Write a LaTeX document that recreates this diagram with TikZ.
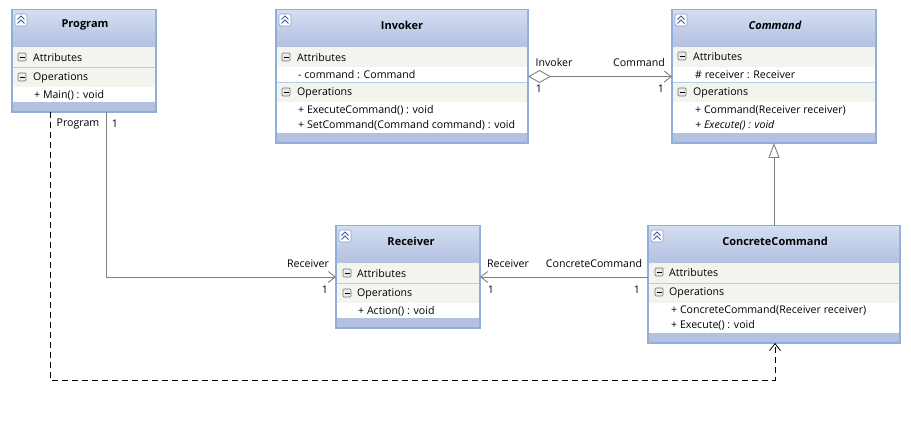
\documentclass[tikz,border=0pt]{standalone}
\usepackage{fontspec}
\setmainfont{Open Sans}
\usetikzlibrary{arrows.meta}
\definecolor{classline}{HTML}{8FAEDB}
\definecolor{headtop}{HTML}{D3DDF0}
\definecolor{headbottom}{HTML}{B3C0E0}
\definecolor{rowband}{HTML}{F2F5EE}
\definecolor{rowline}{HTML}{B9CBE8}
\definecolor{iconblue}{HTML}{3F5A9C}
\tikzset{
	classbox/.style={draw=classline, fill=headbottom, line width=1.2pt, inner sep=0pt, outer sep=0pt, anchor=north west},
	headbox/.style={top color=headtop, bottom color=headbottom, inner sep=0pt, outer sep=0pt, anchor=north west, minimum height=36pt},
	bandbox/.style={fill=rowband, inner sep=0pt, outer sep=0pt, anchor=north west, minimum height=20pt},
	rowbox/.style={fill=white, inner sep=0pt, outer sep=0pt, anchor=north west},
	sepline/.style={draw=rowline, line width=0.8pt},
	title/.style={font=\fontsize{11}{13}\selectfont\bfseries, inner sep=0pt, yshift=-1pt},
	member/.style={font=\fontsize{10.6}{13}\selectfont, inner sep=0pt, anchor=west, yshift=-0.8pt},
	rolelabel/.style={font=\fontsize{10.6}{13}\selectfont, inner sep=0pt},
	solidlink/.style={draw=black!50, line width=0.9pt},
	dashlink/.style={draw=black, line width=0.8pt, dash pattern=on 6pt off 4pt},
	collapse/.pic={
		\draw[draw=iconblue!60, fill=white, rounded corners=1.5pt, line width=0.7pt] (-6,-6) rectangle (6,6);
		\draw[draw=iconblue, line width=1pt] (-3.5,-0.5) -- (0,-4) -- (3.5,-0.5);
		\draw[draw=iconblue, line width=1pt] (-3.5,3.5) -- (0,0) -- (3.5,3.5);
	},
	minusbox/.pic={
		\draw[draw=black!55, fill=black!8, rounded corners=1pt, line width=0.7pt] (-4,-4) rectangle (4,4);
		\draw[draw=black, line width=0.9pt] (-2.5,0) -- (2.5,0);
	}
}

\begin{document}
\begin{tikzpicture}[x=1pt, y=-1pt]
	\useasboundingbox (0,0) rectangle (911,430);

	% Program
	\node[classbox, minimum width=144pt, minimum height=102pt] (Program) at (12,10) {};
	\node[headbox, minimum width=142pt] (ProgramHead) at (13,11) {};
	\node[bandbox, minimum width=142pt] (ProgramAttrBand) at (13,47) {};
	\node[bandbox, minimum width=142pt] (ProgramOpsBand) at (13,67) {};
	\node[rowbox, minimum width=142pt, minimum height=15pt] (ProgramOpsRows) at (13,87) {};
	\draw[sepline] (13,67) -- (155,67);
	\pic at (21,20) {collapse};
	\pic at (22,57) {minusbox};
	\pic at (22,77) {minusbox};
	\node[title] (ProgramTitle) at (85,24) {Program};
	\node[member] (ProgramAttr) at (33,57) {Attributes};
	\node[member] (ProgramOps) at (33,77) {Operations};
	\node[member] (ProgramMain) at (34,95) {+ Main() : void};

	% Invoker
	\node[classbox, minimum width=252pt, minimum height=133pt] (Invoker) at (276,10) {};
	\node[headbox, minimum width=250pt] (InvokerHead) at (277,11) {};
	\node[bandbox, minimum width=250pt] (InvokerAttrBand) at (277,47) {};
	\node[rowbox, minimum width=250pt, minimum height=15pt] (InvokerAttrRows) at (277,67) {};
	\node[bandbox, minimum width=250pt] (InvokerOpsBand) at (277,82) {};
	\node[rowbox, minimum width=250pt, minimum height=31pt] (InvokerOpsRows) at (277,102) {};
	\draw[sepline] (277,82) -- (527,82);
	\pic at (285,20) {collapse};
	\pic at (286,57) {minusbox};
	\pic at (286,92) {minusbox};
	\node[title] (InvokerTitle) at (402,24) {Invoker};
	\node[member] (InvokerAttr) at (297,57) {Attributes};
	\node[member] (InvokerField) at (298,74) {- command : Command};
	\node[member] (InvokerOps) at (297,92) {Operations};
	\node[member] (InvokerExec) at (298,110) {+ ExecuteCommand() : void};
	\node[member] (InvokerSet) at (298,125) {+ SetCommand(Command command) : void};

	% Command
	\node[classbox, minimum width=204pt, minimum height=133pt] (Command) at (672,10) {};
	\node[headbox, minimum width=202pt] (CommandHead) at (673,11) {};
	\node[bandbox, minimum width=202pt] (CommandAttrBand) at (673,47) {};
	\node[rowbox, minimum width=202pt, minimum height=15pt] (CommandAttrRows) at (673,67) {};
	\node[bandbox, minimum width=202pt] (CommandOpsBand) at (673,82) {};
	\node[rowbox, minimum width=202pt, minimum height=31pt] (CommandOpsRows) at (673,102) {};
	\draw[sepline] (673,82) -- (875,82);
	\pic at (681,20) {collapse};
	\pic at (682,56) {minusbox};
	\pic at (682,92) {minusbox};
	\node[title, font=\fontsize{11}{13}\selectfont\bfseries\itshape] (CommandTitle) at (775,24) {Command};
	\node[member] (CommandAttr) at (693,56) {Attributes};
	\node[member] (CommandField) at (695,74) {\# receiver : Receiver};
	\node[member] (CommandOps) at (693,92) {Operations};
	\node[member] (CommandCtor) at (695,110) {+ Command(Receiver receiver)};
	\node[member, font=\fontsize{10.6}{13}\selectfont\itshape] (CommandExec) at (695,125) {+ Execute() : void};

	% Receiver
	\node[classbox, minimum width=144pt, minimum height=102pt] (Receiver) at (336,226) {};
	\node[headbox, minimum width=142pt] (ReceiverHead) at (337,227) {};
	\node[bandbox, minimum width=142pt] (ReceiverAttrBand) at (337,263) {};
	\node[bandbox, minimum width=142pt] (ReceiverOpsBand) at (337,283) {};
	\node[rowbox, minimum width=142pt, minimum height=15pt] (ReceiverOpsRows) at (337,303) {};
	\draw[sepline] (337,283) -- (479,283);
	\pic at (345,236) {collapse};
	\pic at (347,273) {minusbox};
	\pic at (347,293) {minusbox};
	\node[title] (ReceiverTitle) at (411,240) {Receiver};
	\node[member] (ReceiverAttr) at (357,273) {Attributes};
	\node[member] (ReceiverOps) at (357,293) {Operations};
	\node[member] (ReceiverAction) at (358,311) {+ Action() : void};

	% ConcreteCommand
	\node[classbox, minimum width=252pt, minimum height=117pt] (ConcreteCommand) at (648,226) {};
	\node[headbox, minimum width=250pt] (ConcreteHead) at (649,227) {};
	\node[bandbox, minimum width=250pt] (ConcreteAttrBand) at (649,263) {};
	\node[bandbox, minimum width=250pt] (ConcreteOpsBand) at (649,283) {};
	\node[rowbox, minimum width=250pt, minimum height=30pt] (ConcreteOpsRows) at (649,303) {};
	\draw[sepline] (649,283) -- (899,283);
	\pic at (657,236) {collapse};
	\pic at (659,272) {minusbox};
	\pic at (659,292) {minusbox};
	\node[title] (ConcreteTitle) at (775,240) {ConcreteCommand};
	\node[member] (ConcreteAttr) at (669,272) {Attributes};
	\node[member] (ConcreteOps) at (669,292) {Operations};
	\node[member] (ConcreteCtor) at (671,310) {+ ConcreteCommand(Receiver receiver)};
	\node[member] (ConcreteExec) at (671,325) {+ Execute() : void};

	% links
	\coordinate (dashcorner) at (50,380);
	\coordinate (dashturn) at (775,380);
	\draw[solidlink, {Diamond[open, fill=white, length=23pt, width=13pt]}-{Straight Barb[length=7pt, width=11pt]}] (Invoker) -- (Command);
	\draw[solidlink, -{Triangle[open, fill=white, length=15pt, width=11pt]}] (ConcreteCommand) -- (Command);
	\draw[solidlink, -{Straight Barb[length=7pt, width=11pt]}] ([xshift=22pt]Program.south) |- (Receiver);
	\draw[solidlink, -{Straight Barb[length=7pt, width=11pt]}] (ConcreteCommand.west |- Receiver) -- (Receiver);
	\draw[dashlink, -{Straight Barb[length=7pt, width=11pt, line width=0.8pt]}] ([xshift=-34pt]Program.south) -- (dashcorner) -- (dashturn) -- (ConcreteCommand.south -| dashturn);

	% link labels
	\node[rolelabel] (ProgramEnd) at (78,124) {Program};
	\node[rolelabel] (ProgramOne) at (115,124) {1};
	\node[rolelabel] (InvokerEnd) at (554,63) {Invoker};
	\node[rolelabel] (InvokerOne) at (539,89) {1};
	\node[rolelabel] (CommandEnd) at (639,63) {Command};
	\node[rolelabel] (CommandOne) at (661,89) {1};
	\node[rolelabel] (ReceiverLeftEnd) at (308,264) {Receiver};
	\node[rolelabel] (ReceiverLeftOne) at (325,290) {1};
	\node[rolelabel] (ReceiverRightEnd) at (508,264) {Receiver};
	\node[rolelabel] (ReceiverRightOne) at (491,290) {1};
	\node[rolelabel] (ConcreteEnd) at (594,264) {ConcreteCommand};
	\node[rolelabel] (ConcreteOne) at (637,290) {1};
\end{tikzpicture}
\end{document}
